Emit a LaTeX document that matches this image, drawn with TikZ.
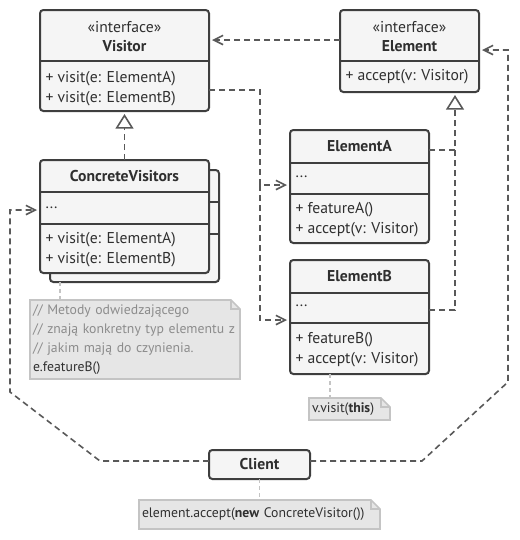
\documentclass[tikz,border=0pt]{standalone}
\usepackage{fontspec}
\setmainfont{PT Sans}
\usetikzlibrary{arrows.meta,calc}

\definecolor{boxfill}{HTML}{F5F5F5}
\definecolor{boxline}{HTML}{3E3E3E}
\definecolor{wireline}{HTML}{595959}
\definecolor{notefill}{HTML}{E6E6E6}
\definecolor{noteline}{HTML}{C4C4C4}
\definecolor{notetext}{HTML}{8C8C8C}
\definecolor{inktext}{HTML}{2F2F2F}

\tikzset{every picture/.style={line width=0.75pt}}
\tikzset{
  umlbox/.style={draw=boxline, fill=boxfill, line width=1.5pt, rounded corners=2.5pt, anchor=north west, inner sep=0pt, outer sep=0pt},
  divider/.style={draw=boxline, line width=1.5pt},
  txt/.style={inner sep=0.75pt, text=inktext, font=\fontsize{11.75}{15}\selectfont},
  title/.style={txt, font=\fontsize{11.75}{15}\selectfont\bfseries},
  wire/.style={draw=wireline, line width=1.2pt, dash pattern=on 4.5pt off 3pt},
  depend/.style={wire, -{Straight Barb[length=7pt,width=7pt,line width=1.2pt]}, shorten >=2.25pt},
  realize/.style={wire, -{Triangle[open,length=11pt,width=13.5pt,line width=1.2pt]}, shorten >=2.25pt},
  noteshape/.style={fill=notefill, draw=noteline, line width=1.2pt},
  notefold/.style={draw=noteline, line width=1pt},
  notetxt/.style={anchor=north west, inner sep=0pt, inner xsep=2.25pt, outer sep=0pt, align=left, text=inktext, font=\fontsize{10.3}{14.25}\selectfont},
  notewire/.style={draw=noteline, line width=1.2pt, dash pattern=on 3pt off 2.25pt}
}

\begin{document}
\begin{tikzpicture}[x=0.75pt,y=0.75pt,yscale=-1,xscale=1]
\useasboundingbox (0,0) rectangle (520,540);

%Shapes: Visitor
\node [umlbox, minimum width=126.75pt, minimum height=75.75pt] (Visitor) at (40,10) {};
\draw [divider] (40,61) -- (209,61);
%Shapes: ConcreteVisitors (stacked)
\node [umlbox, minimum width=126.75pt, minimum height=84pt] (CVBack) at (50,170) {};
\draw [divider] (50,202) -- (219,202);
\draw [divider] (50,234) -- (219,234);
\node [umlbox, minimum width=126.75pt, minimum height=84.75pt] (CV) at (40,160) {};
\draw [divider] (40,192) -- (209,192);
\draw [divider] (40,224) -- (209,224);
%Shapes: Element
\node [umlbox, minimum width=104.25pt, minimum height=61.5pt] (Element) at (340,10) {};
\draw [divider] (340,61) -- (479,61);
%Shapes: ElementA
\node [umlbox, minimum width=104.25pt, minimum height=84.75pt] (ElementA) at (290,130) {};
\draw [divider] (290,163) -- (429,163);
\draw [divider] (290,194) -- (429,194);
%Shapes: ElementB
\node [umlbox, minimum width=104.25pt, minimum height=85.5pt] (ElementB) at (290,260) {};
\draw [divider] (290,293) -- (429,293);
\draw [divider] (290,323) -- (429,323);
%Shapes: Client
\node [umlbox, minimum width=75.75pt, minimum height=21.75pt] (Client) at (209,450) {};

% Text Node
\node [txt] (VisitorStereo) at (124.5,27) {«interface»};
\node [title] (VisitorName) at (124.5,46) {Visitor};
\node [txt, anchor=west, align=left] (VisitorOps) at (44,89) {+ visit(e: ElementA)\\+ visit(e: ElementB)};
% Text Node
\node [title] (CVName) at (124.5,176) {ConcreteVisitors};
\node [txt, anchor=west] (CVFields) at (44,208) {...};
\node [txt, anchor=west, align=left] (CVOps) at (44,250) {+ visit(e: ElementA)\\+ visit(e: ElementB)};
% Text Node
\node [txt] (ElementStereo) at (409.5,27) {«interface»};
\node [title] (ElementName) at (409.5,46) {Element};
\node [txt, anchor=west] (ElementOps) at (344,77) {+ accept(v: Visitor)};
% Text Node
\node [title] (ElementAName) at (359.5,146) {ElementA};
\node [txt, anchor=west] (ElementAFields) at (294,177) {...};
\node [txt, anchor=west, align=left] (ElementAOps) at (294,220) {+ featureA()\\+ accept(v: Visitor)};
% Text Node
\node [title] (ElementBName) at (359.5,276) {ElementB};
\node [txt, anchor=west] (ElementBFields) at (294,306) {...};
\node [txt, anchor=west, align=left] (ElementBOps) at (294,350) {+ featureB()\\+ accept(v: Visitor)};
% Text Node
\node [title] (ClientName) at (259.5,464.5) {Client};

%Notes
\filldraw [noteshape] (30,300) -- (231,300) -- (240,309) -- (240,379) -- (30,379) -- cycle;
\draw [notefold] (231,300) -- (231,309) -- (240,309);
\node [notetxt, minimum width=157.5pt, minimum height=59.25pt, text width=153pt] (CVNote) at (30,300)
  {\mbox{\textcolor{notetext}{// Metody odwiedzającego}}\\\mbox{\textcolor{notetext}{// znają konkretny typ elementu z}}\\\mbox{\textcolor{notetext}{// jakim mają do czynienia.}}\\\mbox{e.featureB()}};
\filldraw [noteshape] (309,398) -- (381,398) -- (390,407) -- (390,420) -- (309,420) -- cycle;
\draw [notefold] (381,398) -- (381,407) -- (390,407);
\node [notetxt, minimum width=60.75pt, minimum height=16.5pt, text width=56.25pt] (VisitNote) at (309,398) {\mbox{v.visit(\textbf{this})}};
\filldraw [noteshape] (139,500) -- (371,500) -- (380,509) -- (380,529) -- (139,529) -- cycle;
\draw [notefold] (371,500) -- (371,509) -- (380,509);
\node [notetxt, minimum width=180.75pt, minimum height=21.75pt, text width=176.25pt] (ClientNote) at (139,500) {\mbox{element.accept(\textbf{new} ConcreteVisitor())}};

%Note links
\coordinate (cvTail) at ($(CVBack.south west)+(10,0)$);
\draw [notewire] (cvTail) -- (cvTail |- CVNote.north);
\coordinate (bTail) at ($(ElementB.south west)+(40,0)$);
\draw [notewire] (bTail) -- (bTail |- VisitNote.north);
\draw [notewire] (Client.south) -- (Client.south |- ClientNote.north);

%Realizations
\draw [realize] (CV.north) -- (Visitor.south);
\coordinate (eJoin) at (455,150);
\coordinate (eFoot) at (455,310);
\draw [wire] (ElementA.east |- eJoin) -- (eJoin);
\draw [realize] (ElementB.east |- eFoot) -- (eFoot) -- (eFoot |- Element.south);

%Dependencies
\coordinate (iRow) at (300,40);
\draw [depend] (Element.west |- iRow) -- (Visitor.east |- iRow);
\coordinate (vTurn) at (260,90);
\coordinate (vSplit) at (260,185);
\coordinate (vEnd) at (260,320);
\draw [depend] (Visitor.east |- vTurn) -- (vTurn) -- (vSplit) -- (ElementA.west |- vSplit);
\draw [depend] (vSplit) -- (vEnd) -- (ElementB.west |- vEnd);
\coordinate (cLeftA) at (100,461);
\coordinate (cLeftB) at (10,392);
\coordinate (cLeftC) at (10,210);
\draw [depend] (Client.west |- cLeftA) -- (cLeftA) -- (cLeftB) -- (cLeftC) -- (CV.west |- cLeftC);
\coordinate (cRightA) at (422,461);
\coordinate (cRightB) at (508,382);
\coordinate (cRightC) at (508,50);
\draw [depend] (Client.east |- cRightA) -- (cRightA) -- (cRightB) -- (cRightC) -- (Element.east |- cRightC);

\end{tikzpicture}
\end{document}
